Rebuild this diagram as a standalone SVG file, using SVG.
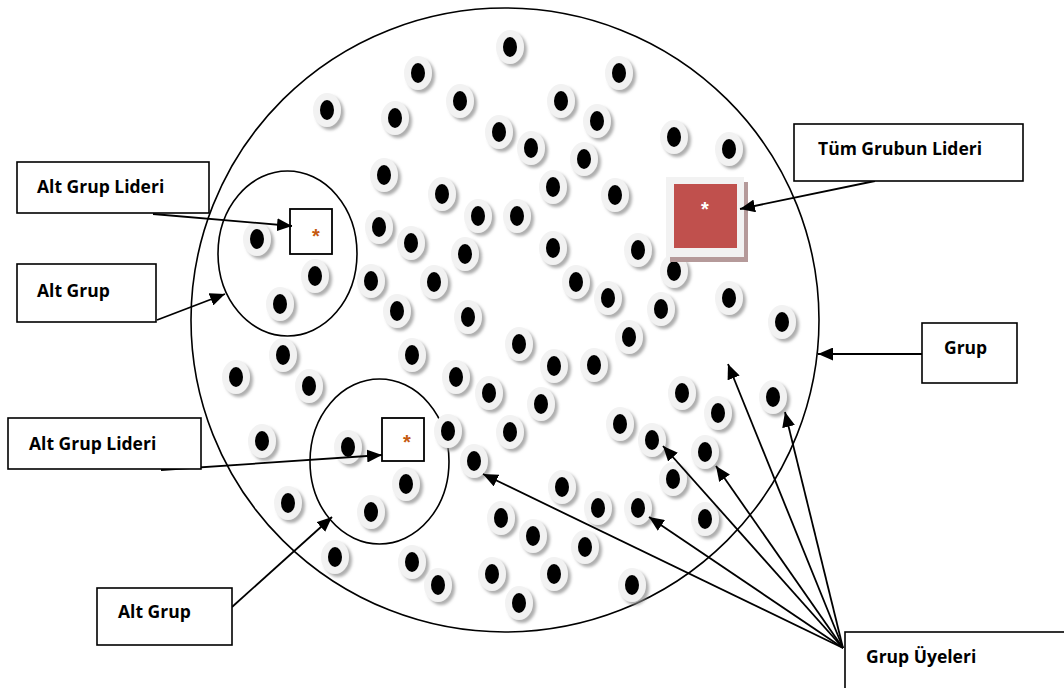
<svg xmlns="http://www.w3.org/2000/svg" xmlns:xlink="http://www.w3.org/1999/xlink" width="1064" height="688" viewBox="0 0 1064 688">
<style>
.lbl{fill:#fff;stroke:#000;stroke-width:1.6}
.t{font-family:"Open Sans","Liberation Sans",sans-serif;font-weight:700;font-size:17.5px;fill:#000}
.ring{fill:none;stroke:#000;stroke-width:1.6}
.con{stroke:#000;stroke-width:1.8;fill:none;marker-end:url(#ah)}
.star{font-family:"Liberation Sans",sans-serif;font-weight:700;font-size:20px;text-anchor:middle}
</style>
<defs>
<marker id="ah" viewBox="0 0 15 13" refX="15" refY="6.5" markerWidth="15" markerHeight="13" markerUnits="userSpaceOnUse" orient="auto">
<path d="M0,0 L15,6.5 L0,13 z" fill="#000"/>
</marker>
<filter id="sh" x="-40%" y="-40%" width="190%" height="190%">
<feDropShadow dx="3" dy="3" stdDeviation="1.5" flood-color="#8c8c8c" flood-opacity="0.7"/>
</filter>
<g id="dot">
<ellipse cx="0" cy="0" rx="14" ry="17" fill="#f2f2f2" filter="url(#sh)"/>
<ellipse cx="0" cy="0" rx="7" ry="10" fill="#000"/>
</g>
</defs>
<rect width="1064" height="688" fill="#fff"/>
<g id="grup-circle"><ellipse class="ring" cx="505" cy="320" rx="314" ry="312"/></g>
<g id="altgrup-1"><ellipse class="ring" cx="287.5" cy="253.5" rx="69.5" ry="82.5"/></g>
<g id="altgrup-2"><ellipse class="ring" cx="379.5" cy="461.5" rx="69.5" ry="82.5"/></g>
<g id="members">
<use href="#dot" x="510" y="47"/>
<use href="#dot" x="418" y="73"/>
<use href="#dot" x="619" y="73"/>
<use href="#dot" x="327" y="110"/>
<use href="#dot" x="460" y="101"/>
<use href="#dot" x="561" y="101"/>
<use href="#dot" x="395" y="118"/>
<use href="#dot" x="597" y="121"/>
<use href="#dot" x="499" y="132"/>
<use href="#dot" x="531" y="148"/>
<use href="#dot" x="584" y="159"/>
<use href="#dot" x="674" y="137"/>
<use href="#dot" x="729" y="149"/>
<use href="#dot" x="384" y="175"/>
<use href="#dot" x="553" y="187"/>
<use href="#dot" x="442" y="194"/>
<use href="#dot" x="615" y="195"/>
<use href="#dot" x="478" y="216"/>
<use href="#dot" x="517" y="216"/>
<use href="#dot" x="379" y="227"/>
<use href="#dot" x="257" y="239"/>
<use href="#dot" x="411" y="243"/>
<use href="#dot" x="465" y="254"/>
<use href="#dot" x="553" y="248"/>
<use href="#dot" x="638" y="250"/>
<use href="#dot" x="674" y="271"/>
<use href="#dot" x="315" y="276"/>
<use href="#dot" x="371" y="281"/>
<use href="#dot" x="434" y="282"/>
<use href="#dot" x="576" y="282"/>
<use href="#dot" x="608" y="298"/>
<use href="#dot" x="280" y="304"/>
<use href="#dot" x="397" y="311"/>
<use href="#dot" x="468" y="317"/>
<use href="#dot" x="661" y="309"/>
<use href="#dot" x="729" y="298"/>
<use href="#dot" x="782" y="322"/>
<use href="#dot" x="629" y="337"/>
<use href="#dot" x="519" y="344"/>
<use href="#dot" x="283" y="355"/>
<use href="#dot" x="412" y="355"/>
<use href="#dot" x="236" y="377"/>
<use href="#dot" x="309" y="386"/>
<use href="#dot" x="456" y="377"/>
<use href="#dot" x="554" y="366"/>
<use href="#dot" x="594" y="365"/>
<use href="#dot" x="489" y="393"/>
<use href="#dot" x="541" y="404"/>
<use href="#dot" x="682" y="393"/>
<use href="#dot" x="718" y="413"/>
<use href="#dot" x="773" y="397"/>
<use href="#dot" x="262" y="441"/>
<use href="#dot" x="348" y="447"/>
<use href="#dot" x="448" y="431"/>
<use href="#dot" x="510" y="432"/>
<use href="#dot" x="620" y="424"/>
<use href="#dot" x="652" y="440"/>
<use href="#dot" x="705" y="452"/>
<use href="#dot" x="474" y="461"/>
<use href="#dot" x="406" y="484"/>
<use href="#dot" x="673" y="479"/>
<use href="#dot" x="562" y="487"/>
<use href="#dot" x="288" y="503"/>
<use href="#dot" x="371" y="512"/>
<use href="#dot" x="501" y="518"/>
<use href="#dot" x="598" y="508"/>
<use href="#dot" x="638" y="508"/>
<use href="#dot" x="705" y="519"/>
<use href="#dot" x="533" y="536"/>
<use href="#dot" x="585" y="547"/>
<use href="#dot" x="335" y="557"/>
<use href="#dot" x="412" y="562"/>
<use href="#dot" x="438" y="585"/>
<use href="#dot" x="492" y="574"/>
<use href="#dot" x="554" y="574"/>
<use href="#dot" x="632" y="585"/>
<use href="#dot" x="519" y="603"/>
</g>
<g id="lider-1">
<rect x="290" y="209" width="42" height="45" fill="#fff" stroke="#000" stroke-width="1.8"/>
<text class="star" x="316" y="243" fill="#c55a11">*</text>
</g>
<g id="lider-2">
<rect x="382" y="418" width="42" height="43" fill="#fff" stroke="#000" stroke-width="1.8"/>
<text class="star" x="407" y="449" fill="#c55a11">*</text>
</g>
<g id="tum-grup-lideri">
<rect x="670" y="182" width="78" height="80" fill="#b59a9a"/>
<rect x="666" y="177" width="78" height="80" fill="#f2f2f2"/>
<rect x="674" y="184" width="63" height="64" fill="#c0504d"/>
<text class="star" x="705" y="216" fill="#fff">*</text>
</g>
<g id="connectors">
<line class="con" x1="875" y1="181" x2="740" y2="209"/>
<line class="con" x1="153" y1="214" x2="292" y2="226"/>
<line class="con" x1="157" y1="320" x2="225" y2="294"/>
<line class="con" x1="922" y1="354" x2="818" y2="354"/>
<line class="con" x1="161" y1="470" x2="382" y2="455"/>
<line class="con" x1="232" y1="607" x2="332" y2="517"/>
<line class="con" x1="843" y1="648" x2="728" y2="364"/>
<line class="con" x1="843" y1="648" x2="785" y2="412"/>
<line class="con" x1="843" y1="648" x2="716" y2="466"/>
<line class="con" x1="843" y1="648" x2="663" y2="446"/>
<line class="con" x1="843" y1="648" x2="649" y2="517"/>
<line class="con" x1="843" y1="648" x2="483" y2="474"/>
</g>
<g id="lbl-tum">
<rect class="lbl" x="794" y="124" width="229" height="57"/>
<text class="t" x="818" y="155">Tüm Grubun Lideri</text>
</g>
<g id="lbl-altlider-1">
<rect class="lbl" x="17" y="162" width="192" height="51"/>
<text class="t" x="37" y="193">Alt Grup Lideri</text>
</g>
<g id="lbl-altgrup-1">
<rect class="lbl" x="17" y="264" width="139" height="58"/>
<text class="t" x="37" y="297">Alt Grup</text>
</g>
<g id="lbl-grup">
<rect class="lbl" x="922" y="323" width="95" height="60"/>
<text class="t" x="944" y="354">Grup</text>
</g>
<g id="lbl-altlider-2">
<rect class="lbl" x="8" y="418" width="193" height="51"/>
<text class="t" x="29" y="450">Alt Grup Lideri</text>
</g>
<g id="lbl-altgrup-2">
<rect class="lbl" x="97" y="588" width="135" height="57"/>
<text class="t" x="118" y="618">Alt Grup</text>
</g>
<g id="lbl-uyeler">
<rect class="lbl" x="845" y="632" width="240" height="70"/>
<text class="t" x="866" y="663">Grup Üyeleri</text>
</g>
</svg>
